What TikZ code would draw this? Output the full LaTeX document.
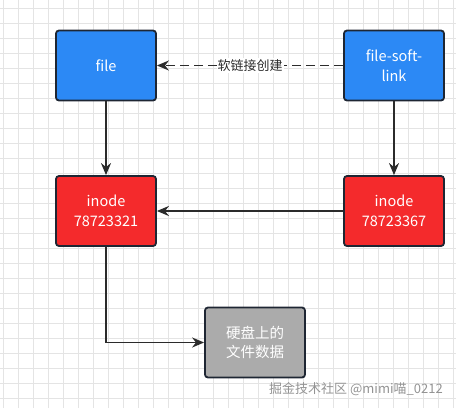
\documentclass[tikz,border=0pt]{standalone}
\usepackage{fontspec}
\setmainfont{Noto Sans CJK SC}
\usetikzlibrary{arrows.meta}
\definecolor{boxline}{HTML}{1E2633}
\definecolor{fileblue}{HTML}{2C89F5}
\definecolor{inodered}{HTML}{F42A2C}
\definecolor{diskgray}{HTML}{ABABAB}
\definecolor{linkink}{HTML}{2B2B2B}
\definecolor{gridgray}{HTML}{E4E4E4}

\begin{document}
\begin{tikzpicture}[x=1pt,y=-1pt,
  point/.style={coordinate},
  block/.style={draw=boxline, line width=1.8pt, rounded corners=3pt, rectangle, minimum height=70pt, minimum width=100pt, text=white, align=center, font=\fontsize{14.5}{19.5}\selectfont},
  link/.style={draw=linkink, line width=1.8pt, -{Stealth[length=12pt,width=10pt]}}]
\useasboundingbox (0,0) rectangle (456,408);
% background grid
\foreach \gx in {3,18,...,453} \draw[gridgray, line width=0.7pt] (\gx,0) -- (\gx,408);
\foreach \gy in {8,23,...,398} \draw[gridgray, line width=0.7pt] (0,\gy) -- (456,\gy);
\node[block, fill=fileblue] (file) at (106,65.5)  {file};
\node[block, fill=fileblue] (soft) at (394,65.5)  {file-soft-\\link};
\node[block, fill=inodered] (ina) at (106,211)  {inode\\78723321};
\node[block, fill=inodered] (inb) at (394,211)  {inode\\78723367};
\node[block, fill=diskgray] (disk) at (255,342.5)  {硬盘上的\\文件数据};
\node[point] (bend) at (106,342.5)  {};
\draw[link] (file) -- (ina);
\draw[link] (soft) -- (inb);
\draw[link] (inb) -- (ina);
\draw[link, dash pattern=on 9pt off 5pt] (soft) -- node[fill=white, inner sep=1pt, text=linkink, font=\fontsize{13}{15}\selectfont] {软链接创建} (file);
\draw[link] (ina) -- (bend) -- (disk);
\node[text=gray!85, font=\fontsize{13}{15}\selectfont] (mark) at (356,389) {掘金技术社区 @mimi喵\_0212};
\end{tikzpicture}
\end{document}
